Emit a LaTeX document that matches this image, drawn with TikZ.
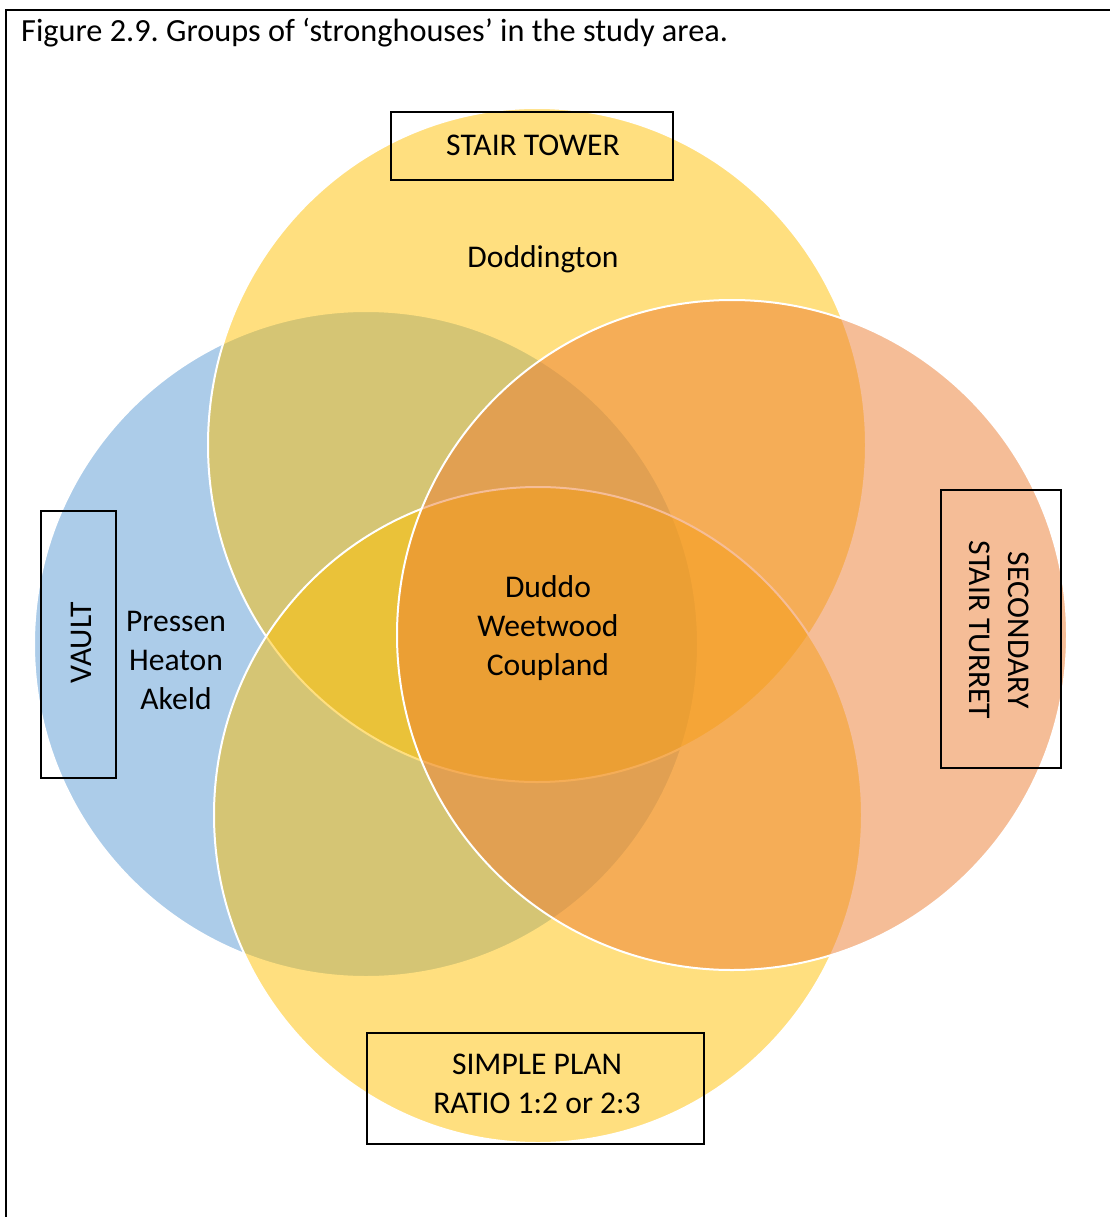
\documentclass[tikz,border=0pt]{standalone}
\usepackage{fontspec}
\setmainfont{Carlito}
\usetikzlibrary{shapes.geometric}
\definecolor{vblue}{HTML}{5B9BD5}
\definecolor{vyellow}{HTML}{FFC000}
\definecolor{vorange}{HTML}{ED7D31}
\frenchspacing
\begin{document}
\begin{tikzpicture}[x=1pt,y=-1pt,
  venn/.style={ellipse, draw=white, line width=2pt, fill opacity=0.5, draw opacity=1, inner sep=0pt},
  lbox/.style={draw=black, line width=2pt, rectangle, inner sep=0pt},
  txt/.style={font=\fontsize{31.6}{38.8}\selectfont, align=center, inner sep=0pt, text=black}]
\useasboundingbox (0,0) rectangle (1110,1217);
\fill[white] (0,0) rectangle (1110,1217);
% frame
\coordinate (fbl) at (6,1217);
\coordinate (ftl) at (6,10);
\coordinate (ftr) at (1110,10);
\draw[line width=2.5pt] (fbl) -- (ftl) -- (ftr);
\node[txt, font=\fontsize{32.3}{38.8}\selectfont, anchor=base west] (title) at (21,42) {Figure 2.9. Groups of ‘stronghouses’ in the study area.};
% circles
\node[venn, fill=vblue, minimum width=664pt, minimum height=666pt] (vault) at (366,644) {};
\node[venn, fill=vyellow, minimum width=658pt, minimum height=674pt] (stair) at (537,445) {};
\node[venn, fill=vyellow, minimum width=648pt, minimum height=656pt] (simple) at (538,815) {};
\node[venn, fill=vorange, minimum width=670pt, minimum height=670pt] (turret) at (732,635) {};
% label boxes
\node[lbox, minimum width=282pt, minimum height=68pt] (stairbox) at (532,146) {};
\node[lbox, minimum width=75pt, minimum height=267pt] (vaultbox) at (78.5,644.5) {};
\node[lbox, minimum width=120pt, minimum height=278pt] (turretbox) at (1001,629) {};
\node[lbox, minimum width=337pt, minimum height=111pt] (simplebox) at (535.5,1088.5) {};
% texts
\node[txt] (stairtxt) at (533,145) {STAIR TOWER};
\node[txt, rotate=90] (vaulttxt) at (81,643) {VAULT};
\node[txt, rotate=-90] (turrettxt) at (999,630) {SECONDARY\\STAIR TURRET};
\node[txt] (simpletxt) at (537,1084) {SIMPLE PLAN\\RATIO 1:2 or 2:3};
\node[txt] (dodd) at (543,259) {Doddington};
\node[txt] (pressen) at (176,660.5) {Pressen\\Heaton\\Akeld};
\node[txt] (duddo) at (548,628) {Duddo\\Weetwood\\Coupland};
\end{tikzpicture}
\end{document}
